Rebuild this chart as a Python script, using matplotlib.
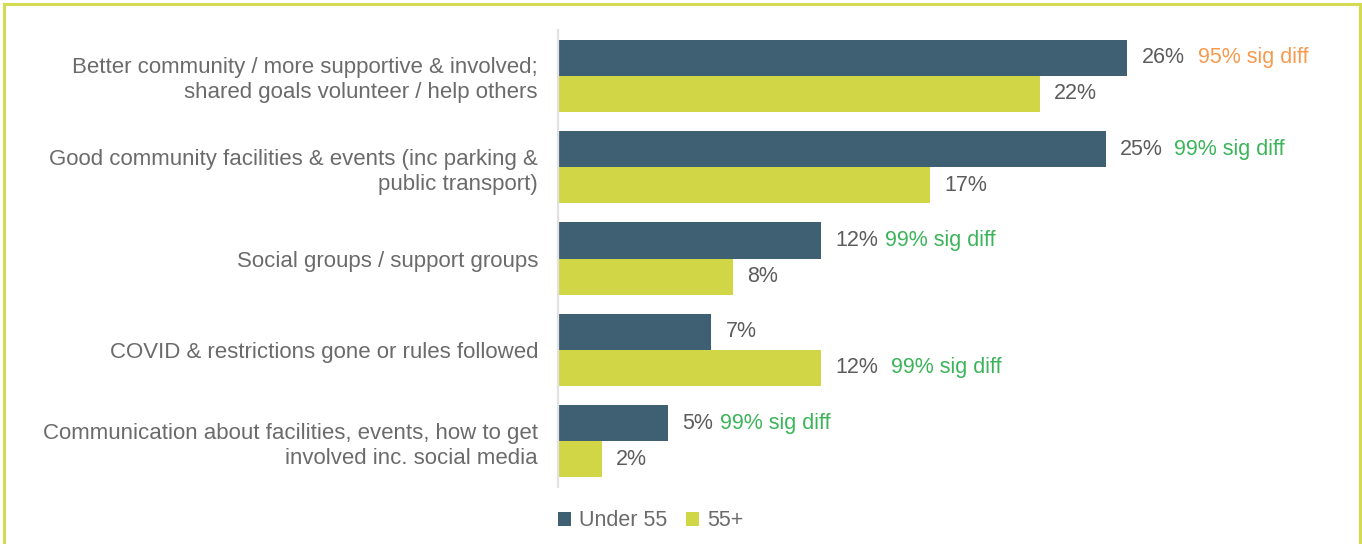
import matplotlib
matplotlib.use("Agg")
import matplotlib.pyplot as plt
from matplotlib.patches import Patch
from matplotlib.lines import Line2D
import numpy as np

plt.rcParams['font.family'] = ['Liberation Sans', 'DejaVu Sans']

categories = [
    "Better community / more supportive & involved;\nshared goals volunteer / help others",
    "Good community facilities & events (inc parking &\npublic transport)",
    "Social groups / support groups",
    "COVID & restrictions gone or rules followed",
    "Communication about facilities, events, how to get\ninvolved inc. social media",
]
under55 = [26, 25, 12, 7, 5]
over55 = [22, 17, 8, 12, 2]
series_names = ["Under 55", "55+"]
# significance notes: (series index, text, colour key)
sig_notes = [
    (0, "95% sig diff", "orange"),
    (0, "99% sig diff", "green"),
    (0, "99% sig diff", "green"),
    (1, "99% sig diff", "green"),
    (0, "99% sig diff", "green"),
]
sig_gaps_px = [13, 11, 7, 13, 7]

DARK = "#3f6072"
LIME = "#d0d645"
BORDER = "#d3db52"
SIG_COLORS = {"orange": "#f79a4e", "green": "#3cb45a"}
LABEL_GRAY = "#6b6b6b"
VALUE_GRAY = "#5c5c5c"

CAT_FS = 16
VAL_FS = 15.5

W, H = 1362, 544
fig = plt.figure(figsize=(W / 100, H / 100), dpi=100)
ax = fig.add_axes([558 / W, 1 - 487 / H, (1340 - 558) / W, (487 - 30) / H])

y = np.arange(len(categories))
bh = 0.395
bars_u = ax.barh(y - bh / 2, under55, height=bh, color=DARK, label=series_names[0])
bars_o = ax.barh(y + bh / 2, over55, height=bh, color=LIME, label=series_names[1])

ax.set_xlim(0, (1340 - 558) / 21.9)
ax.set_ylim(len(categories) - 0.5, -0.5)

for s in ["top", "right", "bottom"]:
    ax.spines[s].set_visible(False)
ax.spines["left"].set_color("#e2e2e2")
ax.spines["left"].set_linewidth(1.6)
ax.set_xticks([])
ax.set_yticks(y)
ax.set_yticklabels(categories, fontsize=CAT_FS, color=LABEL_GRAY, linespacing=1.26)
ax.tick_params(axis="y", length=0, pad=14.4)

value_texts = {}
for si, (bars, vals) in enumerate([(bars_u, under55), (bars_o, over55)]):
    for i, (b, v) in enumerate(zip(bars, vals)):
        t = ax.annotate(f"{v}%", xy=(v, b.get_y() + b.get_height() / 2),
                        xytext=(10.3, 0), textcoords="offset points",
                        va="center", ha="left", fontsize=VAL_FS, color=VALUE_GRAY)
        value_texts[(si, i)] = t

for i, (si, txt, ck) in enumerate(sig_notes):
    ref = value_texts[(si, i)]
    ax.annotate(txt, xy=(1, 0.5), xycoords=ref,
                xytext=(sig_gaps_px[i] * 0.72, 0), textcoords="offset points",
                va="center", ha="left", fontsize=VAL_FS, color=SIG_COLORS[ck])

handles = [Patch(facecolor=DARK, edgecolor="none"), Patch(facecolor=LIME, edgecolor="none")]
fig.legend(handles, series_names, loc="center left",
           bbox_to_anchor=(558 / W, 1 - 521 / H), frameon=False,
           fontsize=VAL_FS, labelcolor=LABEL_GRAY, handlelength=0.6, handleheight=0.6,
           handletextpad=0.37, columnspacing=0.88, ncol=2, borderpad=0, borderaxespad=0)

# frame around the panel (open at the bottom)
lw = 2.2
fig.add_artist(Line2D([4 / W, 4 / W], [-0.1, 1 - 4 / H], transform=fig.transFigure, color=BORDER, lw=lw))
fig.add_artist(Line2D([4 / W, 1360 / W], [1 - 4 / H, 1 - 4 / H], transform=fig.transFigure, color=BORDER, lw=lw))
fig.add_artist(Line2D([1360 / W, 1360 / W], [-0.1, 1 - 4 / H], transform=fig.transFigure, color=BORDER, lw=lw))

fig.savefig("out.png", dpi=100, facecolor="white")
